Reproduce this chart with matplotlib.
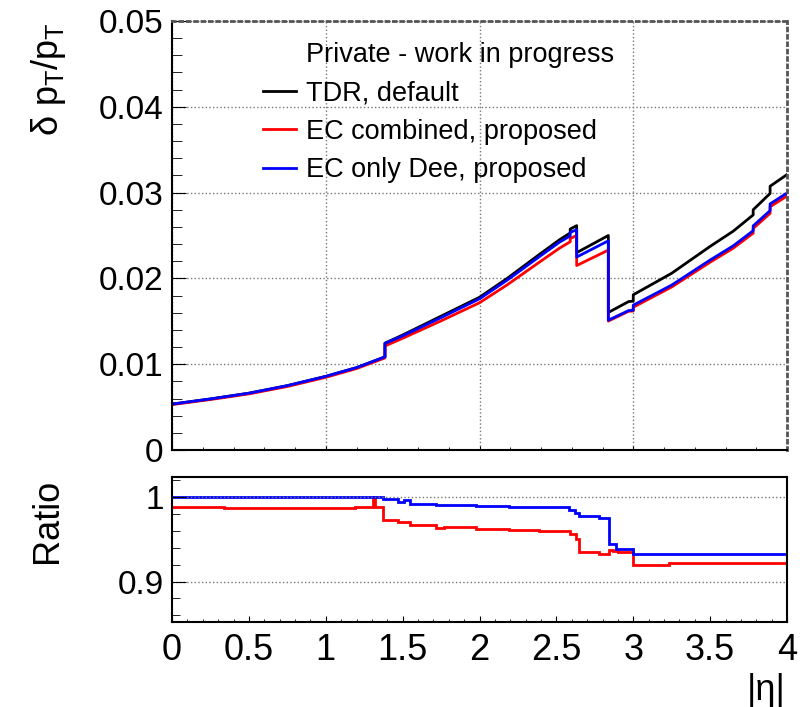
import matplotlib
matplotlib.use('Agg')
import matplotlib.pyplot as plt
from matplotlib.ticker import MultipleLocator, FixedLocator, FuncFormatter
from matplotlib.lines import Line2D

plt.rcParams['font.family'] = ['Liberation Sans', 'DejaVu Sans']
plt.rcParams['mathtext.fontset'] = 'custom'
plt.rcParams['mathtext.rm'] = 'Liberation Sans'
plt.rcParams['mathtext.it'] = 'Liberation Sans'

# resolution vs |eta| (repeated eta = step in the curve)
eta = [0.00, 0.25, 0.50, 0.75, 1.00, 1.20, 1.385, 1.385, 1.50, 1.75, 2.00, 2.18,
       2.39, 2.52, 2.59, 2.59, 2.632, 2.632, 2.838, 2.838, 2.97, 3.00, 3.00,
       3.25, 3.50, 3.65, 3.78, 3.78, 3.89, 3.89, 4.00]
res_tdr = [0.00535, 0.00595, 0.00662, 0.00750, 0.00858, 0.00960, 0.01085, 0.01245,
           0.01340, 0.01560, 0.01780, 0.02000, 0.02280, 0.02450, 0.02530, 0.02575,
           0.02615, 0.02300, 0.02500, 0.01603, 0.01730, 0.01735, 0.01809,
           0.02060, 0.02373, 0.02550, 0.02740, 0.02800, 0.02990, 0.03074, 0.03210]
res_ec_comb = [0.00529, 0.00588, 0.00654, 0.00740, 0.00847, 0.00949, 0.01073, 0.01212,
               0.01302, 0.01505, 0.01716, 0.01925, 0.02190, 0.02352, 0.02427, 0.02465,
               0.02500, 0.02150, 0.02330, 0.01503, 0.01617, 0.01620, 0.01664,
               0.01900, 0.02189, 0.02352, 0.02527, 0.02582, 0.02758, 0.02835, 0.02960]
res_ec_dee = [0.00535, 0.00595, 0.00662, 0.00750, 0.00858, 0.00960, 0.01085, 0.01242,
              0.01330, 0.01543, 0.01762, 0.01980, 0.02254, 0.02422, 0.02495, 0.02538,
              0.02566, 0.02249, 0.02438, 0.01513, 0.01625, 0.01629, 0.01688,
              0.01922, 0.02214, 0.02379, 0.02556, 0.02612, 0.02790, 0.02868, 0.02995]

# ratio to TDR, as histograms
edges_comb = [0, 0.34, 1.19, 1.31, 1.32, 1.37, 1.47, 1.55, 1.72, 1.77, 1.98, 2.19,
              2.39, 2.59, 2.63, 2.65, 2.78, 2.84, 2.87, 2.90, 3.00, 3.23, 4.0]
ratio_comb = [0.989, 0.987, 0.989, 1.000, 0.989, 0.9735, 0.971, 0.9675, 0.964, 0.965,
              0.9627, 0.9607, 0.9595, 0.9567, 0.950, 0.935, 0.933, 0.938, 0.936,
              0.935, 0.920, 0.9223]
edges_dee = [0, 1.37, 1.47, 1.51, 1.55, 1.72, 1.98, 2.19, 2.58, 2.62, 2.65, 2.78,
             2.84, 2.89, 3.00, 4.0]
ratio_dee = [1.0, 0.9976, 0.9945, 0.997, 0.9925, 0.991, 0.990, 0.9885, 0.9854,
             0.9814, 0.9777, 0.975, 0.944, 0.939, 0.933]

labels = ['TDR, default', 'EC combined, proposed', 'EC only Dee, proposed']
fmt = FuncFormatter(lambda v, p: '{:g}'.format(round(v, 4)))
gridstyle = dict(linestyle=':', color='#777777', linewidth=1)

fig = plt.figure(figsize=(8.08, 7.07), dpi=100)
ax = fig.add_axes([172/808, 1-450/707, 615/808, 429/707])
rax = fig.add_axes([172/808, 1-622/707, 615/808, 145/707])

ax.plot(eta, res_tdr, color='black', lw=2, label=labels[0])
ax.plot(eta, res_ec_comb, color='red', lw=2, label=labels[1])
ax.plot(eta, res_ec_dee, color='blue', lw=2, label=labels[2])
ax.set_xlim(0, 4)
ax.set_ylim(0, 0.05)
ax.yaxis.set_major_locator(MultipleLocator(0.01))
ax.yaxis.set_minor_locator(MultipleLocator(0.002))
ax.xaxis.set_major_locator(MultipleLocator(1))
ax.xaxis.set_minor_locator(MultipleLocator(0.2))
ax.yaxis.set_major_formatter(fmt)
ax.tick_params(which='both', direction='in')
ax.tick_params(axis='y', which='major', length=10, labelsize=24, pad=6)
ax.tick_params(axis='y', which='minor', length=7)
ax.tick_params(axis='x', which='major', length=3, labelbottom=False)
ax.tick_params(axis='x', which='minor', length=2.5)
ax.grid(True, which='major', **gridstyle)
for s in ['top', 'right']:
    ax.spines[s].set_linestyle(':')
    ax.spines[s].set_color('#555555')
    ax.spines[s].set_linewidth(2)
for s in ['left', 'bottom']:
    ax.spines[s].set_linewidth(1.5)

header = Line2D([], [], color='none')
handles, labs = ax.get_legend_handles_labels()
ax.legend([header] + handles, ['Private - work in progress'] + labs,
          loc='upper left', bbox_to_anchor=(0.148, 0.950), frameon=False,
          fontsize=19.5, handlelength=1.2, handletextpad=0.4, labelspacing=0.45,
          borderpad=0, borderaxespad=0)

rax.stairs(ratio_comb, edges_comb, color='red', lw=2, baseline=None)
rax.stairs(ratio_dee, edges_dee, color='blue', lw=2, baseline=None)
rax.set_xlim(0, 4)
rax.set_ylim(0.852, 1.024)
rax.yaxis.set_major_locator(FixedLocator([0.9, 1.0]))
rax.yaxis.set_minor_locator(MultipleLocator(0.02))
rax.xaxis.set_major_locator(MultipleLocator(0.5))
rax.xaxis.set_minor_locator(MultipleLocator(0.1))
rax.xaxis.set_major_formatter(fmt)
rax.yaxis.set_major_formatter(fmt)
rax.tick_params(which='both', direction='in')
rax.tick_params(axis='y', which='major', length=10, labelsize=24, pad=6)
rax.tick_params(axis='y', which='minor', length=6)
rax.tick_params(axis='x', which='major', length=4, labelsize=26, pad=8)
rax.tick_params(axis='x', which='minor', length=2)
rax.yaxis.grid(True, which='major', **gridstyle)
for s in rax.spines.values():
    s.set_linewidth(1.5)

fig.text(48/808, 1-22/707, r'$\delta\ p_{T}/p_{T}$', rotation=90,
         ha='center', va='top', fontsize=26)
fig.text(47/808, 1-521/707, 'Ratio', rotation=90, ha='center', va='center', fontsize=26)
fig.text(786/808, 1-690/707, '|η|', ha='right', va='center', fontsize=26)

fig.savefig('out.png', dpi=100)
